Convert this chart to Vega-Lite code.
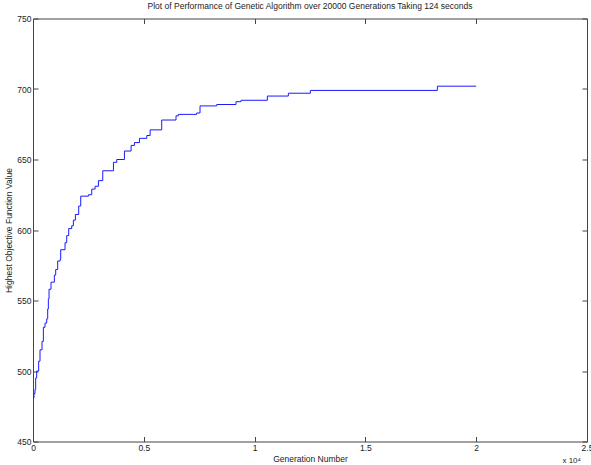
{
  "$schema": "https://vega.github.io/schema/vega-lite/v6.json",
  "width": 554,
  "height": 423,
  "autosize": {"type": "none"},
  "padding": {"left": 33, "top": 18.5, "right": 4, "bottom": 23.5},
  "background": "white",
  "title": {
    "text": "Plot of Performance of Genetic Algorithm over 20000 Generations Taking 124 seconds",
    "font": "Liberation Sans",
    "fontSize": 8.5,
    "fontWeight": "normal",
    "color": "#222",
    "offset": 4,
    "anchor": "middle"
  },
  "config": {
    "view": {"stroke": null},
    "font": "Liberation Sans"
  },
  "data": {
    "values": [
      {"generation": 0, "best": 481},
      {"generation": 45, "best": 484},
      {"generation": 90, "best": 487},
      {"generation": 120, "best": 495},
      {"generation": 166, "best": 500},
      {"generation": 256, "best": 507},
      {"generation": 316, "best": 515},
      {"generation": 407, "best": 521},
      {"generation": 467, "best": 531},
      {"generation": 542, "best": 534},
      {"generation": 617, "best": 537},
      {"generation": 663, "best": 544},
      {"generation": 693, "best": 551},
      {"generation": 723, "best": 558},
      {"generation": 813, "best": 563},
      {"generation": 964, "best": 568},
      {"generation": 1024, "best": 572},
      {"generation": 1114, "best": 578},
      {"generation": 1220, "best": 579},
      {"generation": 1250, "best": 586},
      {"generation": 1446, "best": 591},
      {"generation": 1521, "best": 596},
      {"generation": 1611, "best": 601},
      {"generation": 1747, "best": 603},
      {"generation": 1822, "best": 607},
      {"generation": 1913, "best": 611},
      {"generation": 2063, "best": 617},
      {"generation": 2154, "best": 624},
      {"generation": 2500, "best": 625},
      {"generation": 2651, "best": 629},
      {"generation": 2801, "best": 631},
      {"generation": 2952, "best": 635},
      {"generation": 3148, "best": 642},
      {"generation": 3630, "best": 648},
      {"generation": 3780, "best": 650},
      {"generation": 4126, "best": 656},
      {"generation": 4428, "best": 660},
      {"generation": 4578, "best": 662},
      {"generation": 4804, "best": 665},
      {"generation": 5135, "best": 667},
      {"generation": 5286, "best": 671},
      {"generation": 5808, "best": 678},
      {"generation": 6454, "best": 681},
      {"generation": 6559, "best": 682},
      {"generation": 7387, "best": 683},
      {"generation": 7537, "best": 688},
      {"generation": 8290, "best": 689},
      {"generation": 9161, "best": 691},
      {"generation": 9387, "best": 692},
      {"generation": 10575, "best": 695},
      {"generation": 11523, "best": 697},
      {"generation": 12516, "best": 699},
      {"generation": 18248, "best": 702},
      {"generation": 20000, "best": 702}
    ]
  },
  "layer": [
    {
      "mark": {"type": "line", "interpolate": "step-after", "color": "#1a1aff", "strokeWidth": 1, "clip": true},
      "encoding": {
        "x": {
          "field": "generation", "type": "quantitative",
          "scale": {"domain": [0, 25000], "nice": false, "zero": false},
          "axis": {
            "orient": "bottom",
            "values": [0, 5000, 10000, 15000, 20000, 25000],
            "labelExpr": "format(datum.value / 10000, '')",
            "title": "Generation Number",
            "titleFont": "Liberation Sans", "titleFontSize": 8.5, "titleFontWeight": "normal", "titleColor": "#222",
            "titlePadding": 2,
            "labelFont": "Liberation Sans", "labelFontSize": 8.5, "labelColor": "#222",
            "labelPadding": 7,
            "labelFlush": false,
            "labelOverlap": false,
            "tickSize": -5, "tickColor": "#444", "domainColor": "#444",
            "grid": false
          }
        },
        "y": {
          "field": "best", "type": "quantitative",
          "scale": {"domain": [450, 750], "nice": false, "zero": false},
          "axis": {
            "orient": "left",
            "values": [450, 500, 550, 600, 650, 700, 750],
            "title": "Highest Objective Function Value",
            "titleFont": "Liberation Sans", "titleFontSize": 8.5, "titleFontWeight": "normal", "titleColor": "#222",
            "titlePadding": 3,
            "labelFont": "Liberation Sans", "labelFontSize": 8.5, "labelColor": "#222",
            "labelPadding": 7,
            "labelFlush": false,
            "labelOverlap": false,
            "tickSize": -5, "tickColor": "#444", "domainColor": "#444",
            "grid": false
          }
        }
      }
    },
    {
      "mark": {"type": "line", "opacity": 0},
      "encoding": {
        "x": {
          "field": "generation", "type": "quantitative",
          "scale": {"domain": [0, 25000], "nice": false, "zero": false},
          "axis": {"orient": "top", "values": [0, 5000, 10000, 15000, 20000, 25000], "labels": false, "title": null, "tickSize": -5, "tickColor": "#444", "domainColor": "#444", "grid": false}
        },
        "y": {
          "field": "best", "type": "quantitative",
          "scale": {"domain": [450, 750], "nice": false, "zero": false},
          "axis": {"orient": "right", "values": [450, 500, 550, 600, 650, 700, 750], "labels": false, "title": null, "tickSize": -5, "tickColor": "#444", "domainColor": "#444", "grid": false}
        }
      }
    },
    {
      "data": {"values": [{"generation": 25000, "best": 450, "label": "x 10⁴"}]},
      "mark": {"type": "text", "align": "right", "baseline": "bottom", "dx": -6, "dy": 23, "fontSize": 8, "color": "#222", "font": "Liberation Sans"},
      "encoding": {
        "x": {"field": "generation", "type": "quantitative", "axis": null},
        "y": {"field": "best", "type": "quantitative", "axis": null},
        "text": {"field": "label"}
      }
    }
  ],
  "resolve": {"axis": {"x": "independent", "y": "independent"}}
}
